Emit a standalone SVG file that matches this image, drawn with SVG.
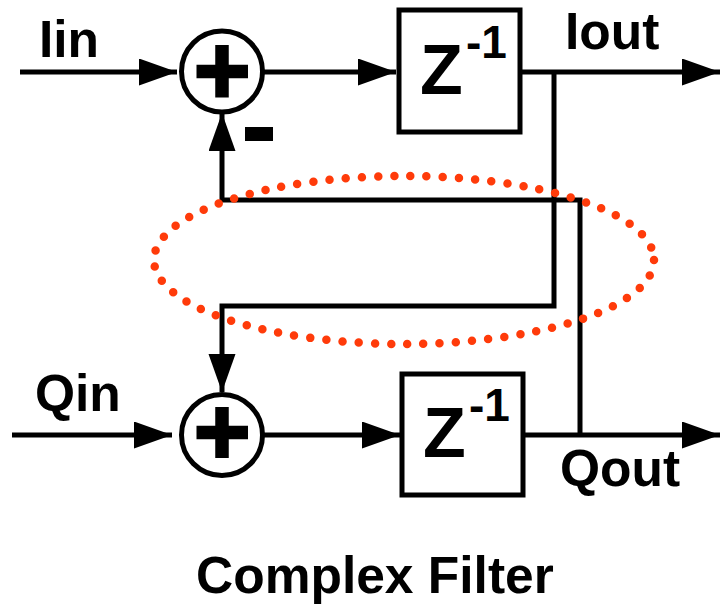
<svg xmlns="http://www.w3.org/2000/svg" width="721" height="604" viewBox="0 0 721 604">
<defs>
<style>
.w{fill:none;stroke:#000;stroke-width:5}
.b{fill:#fff;stroke:#000;stroke-width:5}
.p{fill:none;stroke:#000;stroke-width:13.5}
.t{font-family:"Liberation Sans",Arial,sans-serif;font-weight:bold;fill:#000;font-size:51.5px}
.z{font-size:70px}
.s{font-size:46px}
</style>
<marker id="a" markerUnits="userSpaceOnUse" markerWidth="40" markerHeight="30" refX="38" refY="13.5" orient="auto"><path d="M0 0L38 13.5L0 27Z" fill="#000"/></marker>
</defs>
<rect width="721" height="604" fill="#fff"/>
<g id="connectors">
<path class="w" d="M20 72H177" marker-end="url(#a)"/>
<path class="w" d="M264 72H396" marker-end="url(#a)"/>
<path class="w" d="M521 72H720" marker-end="url(#a)"/>
<path class="w" d="M12 435H172" marker-end="url(#a)"/>
<path class="w" d="M264 435H400" marker-end="url(#a)"/>
<path class="w" d="M525 435H720" marker-end="url(#a)"/>
<path class="w" d="M554 72V306H222V392" marker-end="url(#a)"/>
<path class="w" d="M580 435V200H222V113" marker-end="url(#a)"/>
</g>
<g id="sum1"><circle class="b" cx="222" cy="71.500" r="40.500"/><path class="p" d="M222 45V97.500M196.500 71.500H248"/></g>
<g id="sum2"><circle class="b" cx="222" cy="435" r="40.500"/><path class="p" d="M222 407V458M196.500 432.500H248"/></g>
<g id="delay1"><rect class="b" x="399" y="10" width="121" height="122"/><text class="t z" x="420" y="94">Z</text><text class="t s" x="466" y="58">-1</text></g>
<g id="delay2"><rect class="b" x="402" y="374" width="121" height="121"/><text class="t z" x="423" y="457">Z</text><text class="t s" x="469" y="421">-1</text></g>
<g id="labels">
<text class="t" x="39" y="57">Iin</text>
<text class="t" x="565" y="49">Iout</text>
<text class="t" x="35" y="411">Qin</text>
<text class="t" x="560" y="486">Qout</text>
<text class="t" x="196" y="593">Complex Filter</text>
<rect x="245" y="127" width="28" height="14" fill="#000"/>
</g>
<ellipse id="highlight" cx="404" cy="260" rx="250" ry="84" fill="none" stroke="#ff3b0a" stroke-width="8.500" stroke-linecap="round" stroke-dasharray="0 16.2"/>
</svg>
